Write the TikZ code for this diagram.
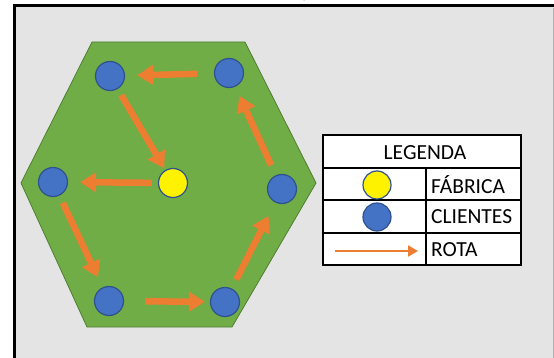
\documentclass[tikz,border=0pt]{standalone}
\usepackage{fontspec}
\setmainfont{Carlito}
\usetikzlibrary{arrows.meta}
\definecolor{bgc}{HTML}{E4E4E4}
\definecolor{hexg}{HTML}{70AD47}
\definecolor{hexd}{HTML}{507E32}
\definecolor{cblue}{HTML}{4472C4}
\definecolor{cbd}{HTML}{2F528F}
\definecolor{rt}{HTML}{ED7D31}
\begin{document}
\begin{tikzpicture}[x=1pt,y=-1pt,
 client/.style={circle,fill=cblue,draw=cbd,line width=1.2pt,minimum size=29pt,inner sep=0pt},
 factory/.style={circle,fill=yellow,draw=cbd,line width=1.2pt,minimum size=29pt,inner sep=0pt},
 route/.style={draw=rt,line width=6.5pt,-{Triangle[length=16pt,width=19pt]}},
 legroute/.style={draw=rt,line width=2pt,-{Triangle[length=10pt,width=11pt]}},
 lbl/.style={font=\fontsize{21.5}{24}\selectfont,inner sep=0pt},
 grid/.style={draw=black,line width=1.5pt}]
\useasboundingbox (0,0) rectangle (554,358);
\fill[white] (0,0) rectangle (554,358);
\fill[bgc] (14,6) rectangle (554,358);
\draw[line width=3pt] (14,360) -- (14,6) -- (556,6);
\draw[gray!60,line width=0.8pt] (553,8) -- (553,358);
\node[anchor=base,font=\fontsize{19}{22}\selectfont,inner sep=0pt] (cap) at (304,-2) {ç};
% hexagon
\filldraw[fill=hexg,draw=hexd,line width=0.8pt] (92,42) -- (245,42) -- (316,183) -- (232,327) -- (87,327) -- (21,183) -- cycle;
% points
\node[client] (tl) at (110,76) {};
\node[client] (tr) at (229,73) {};
\node[factory] (f) at (173,183) {};
\node[client] (l) at (53,182) {};
\node[client] (r) at (282,189) {};
\node[client] (bl) at (109,301) {};
\node[client] (br) at (225,302) {};
% routes
\draw[route,shorten <=17pt,shorten >=12pt] (tr) -- (tl);
\draw[route,shorten <=7pt,shorten >=2pt] (tl) -- (f);
\draw[route,shorten <=6pt,shorten >=12pt] (f) -- (l);
\draw[route,shorten <=8pt,shorten >=11pt] (l) -- (bl);
\draw[route,shorten <=21pt,shorten >=5pt] (bl) -- (br);
\draw[route,shorten <=10pt,shorten >=15pt] (br) -- (r);
\draw[route,shorten <=11pt,shorten >=10pt] (r) -- (tr);
% legend
\fill[white] (323,135) rectangle (521,265);
\draw[grid] (323,135) rectangle (521,265);
\draw[grid] (323,168) -- (521,168);
\draw[grid] (323,200) -- (521,200);
\draw[grid] (323,233) -- (521,233);
\draw[grid] (426,168) -- (426,265);
\node[lbl] (leg) at (425,153) {LEGENDA};
\node[factory,minimum size=28pt] (lf) at (377,185) {};
\node[client,minimum size=28pt] (lc) at (377,217) {};
\coordinate (la1) at (335,251);
\coordinate (la2) at (418,251);
\draw[legroute] (la1) -- (la2);
\node[lbl,anchor=west] (tf) at (431,185) {FÁBRICA};
\node[lbl,anchor=west] (tc) at (431,217) {CLIENTES};
\node[lbl,anchor=west] (tr2) at (431,250) {ROTA};
\end{tikzpicture}
\end{document}
